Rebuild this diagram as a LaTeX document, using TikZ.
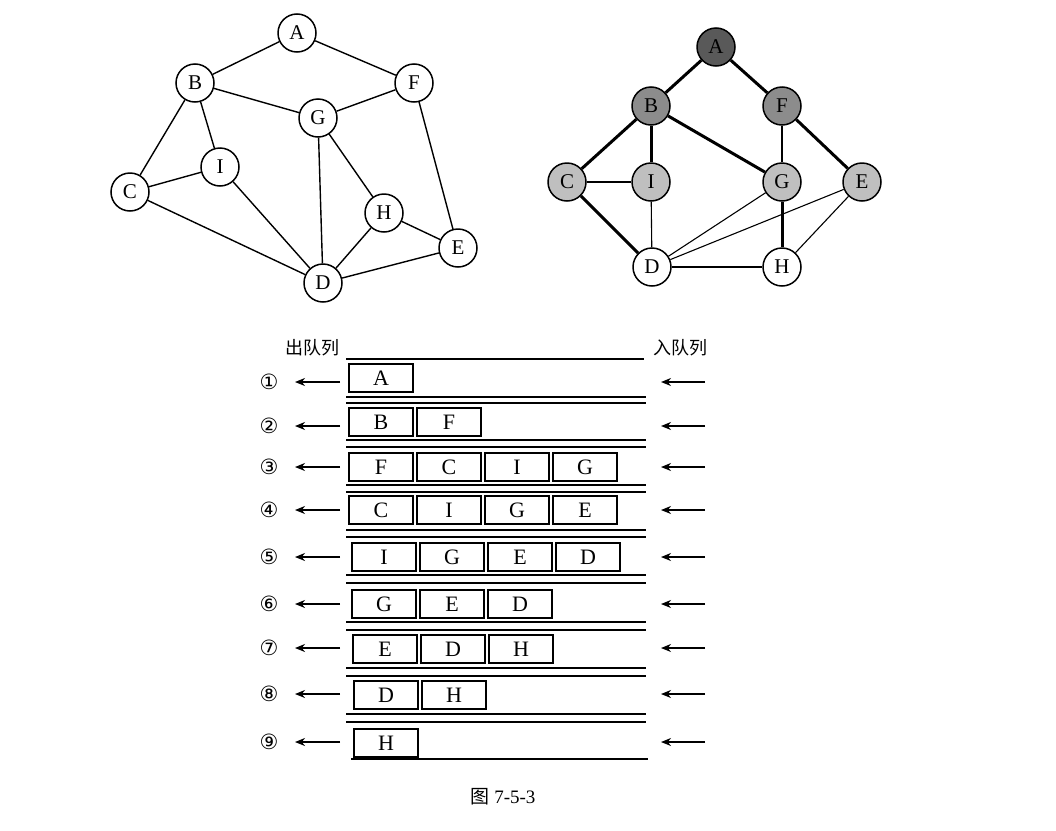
\documentclass[tikz,border=0pt]{standalone}
\usepackage{fontspec}
\setmainfont{Liberation Serif}
\newfontfamily\cjk{Noto Sans CJK SC}
\newfontfamily\symfont{DejaVu Sans}
\usetikzlibrary{arrows.meta}
\begin{document}
\begin{tikzpicture}[x=1pt,y=-1pt,
  vtx/.style={circle,draw,line width=1.5pt,minimum size=38pt,inner sep=0pt,font=\fontsize{21}{23}\selectfont,fill=white},
  dark/.style={vtx,fill=black!65},
  mid/.style={vtx,fill=black!45},
  light/.style={vtx,fill=black!25},
  thinedge/.style={line width=1.4pt},
  thinedger/.style={line width=1.1pt},
  thickedge/.style={line width=3pt},
  qbox/.style={rectangle,draw,line width=1.6pt,minimum width=64pt,minimum height=28pt,inner sep=0pt,font=\fontsize{22}{24}\selectfont},
  qline/.style={line width=2.6pt},
  qarrow/.style={line width=1.8pt,-{Stealth[length=10pt,width=8pt]}},
  lbl/.style={inner sep=0pt,font=\cjk\fontsize{18}{20}\selectfont}
]
\useasboundingbox (0,0) rectangle (1056,830);
\fill[white] (0,0) rectangle (1056,830);

% ---------- left graph ----------
\node[vtx] (lA) at (297,33) {A};
\node[vtx] (lB) at (195,83) {B};
\node[vtx] (lF) at (414,83) {F};
\node[vtx] (lG) at (318,118) {G};
\node[vtx] (lI) at (220,167) {I};
\node[vtx] (lC) at (130,192) {C};
\node[vtx] (lH) at (384,213) {H};
\node[vtx] (lE) at (458,248) {E};
\node[vtx] (lD) at (323,283) {D};
\foreach \a/\b in {A/B,A/F,B/G,G/F,B/C,B/I,C/I,C/D,I/D,G/D,G/H,H/E,H/D,D/E,F/E}
  \draw[thinedge] (l\a) -- (l\b);

% ---------- right graph ----------
\node[dark]  (rA) at (716,47) {A};
\node[mid]   (rB) at (651,106) {B};
\node[mid]   (rF) at (782,106) {F};
\node[light] (rC) at (567,182) {C};
\node[light] (rI) at (651,182) {I};
\node[light] (rG) at (782,182) {G};
\node[light] (rE) at (862,182) {E};
\node[vtx]   (rD) at (652,267) {D};
\node[vtx]   (rH) at (782,267) {H};
\foreach \a/\b in {A/B,A/F,B/C,B/I,B/G,F/E,C/D,G/H}
  \draw[thickedge] (r\a) -- (r\b);
\foreach \a/\b in {C/I,I/D,F/G,G/D,E/D,E/H,D/H}
  \draw[thinedger] (r\a) -- (r\b);

% ---------- queue ----------
\node[lbl] (out) at (312,348) {出队列};
\node[lbl] (in)  at (680,348) {入队列};
\coordinate (t1) at (346,359); \coordinate (t2) at (644,359);
\draw[qline] (t1) -- (t2);
\foreach \k/\ya/\yb in {1/397/403,2/440/447,3/485/492,4/530/537,5/575/583,6/622/630,7/668/676,8/714/722}{
  \coordinate (da\k) at (346,\ya); \coordinate (db\k) at (646,\ya);
  \coordinate (dc\k) at (346,\yb); \coordinate (dd\k) at (646,\yb);
  \draw[qline] (da\k) -- (db\k);
  \draw[qline] (dc\k) -- (dd\k);
}
\coordinate (b1) at (351,759); \coordinate (b2) at (648,759);
\draw[qline] (b1) -- (b2);

\foreach \i/\y/\by/\sx/\items in {1/382/378/381/{A},2/426/422/381/{B,F},3/467/467/381/{F,C,I,G},4/510/510/381/{C,I,G,E},5/557/557/384/{I,G,E,D},6/604/604/384/{G,E,D},7/648/649/385/{E,D,H},8/694/695/386/{D,H},9/742/743/386/{H}}{
  \foreach \t [count=\k] in \items {
    \node[qbox] (q\i-\k) at ({\sx+68*(\k-1)},\by) {\t};
  }
  \coordinate (ls\i) at (340,\y); \coordinate (le\i) at (295,\y);
  \coordinate (rs\i) at (705,\y); \coordinate (re\i) at (661,\y);
  \draw[qarrow] (ls\i) -- (le\i);
  \draw[qarrow] (rs\i) -- (re\i);
}
\foreach \i/\y/\c in {1/382/①,2/426/②,3/467/③,4/510/④,5/557/⑤,6/604/⑥,7/648/⑦,8/694/⑧,9/742/⑨}
  \node[inner sep=0pt,font=\symfont\fontsize{21}{23}\selectfont] (n\i) at (269,\y) {\c};

\node[inner sep=0pt,font=\fontsize{19}{21}\selectfont] (cap) at (503,797) {{\cjk 图} 7-5-3};
\end{tikzpicture}
\end{document}
